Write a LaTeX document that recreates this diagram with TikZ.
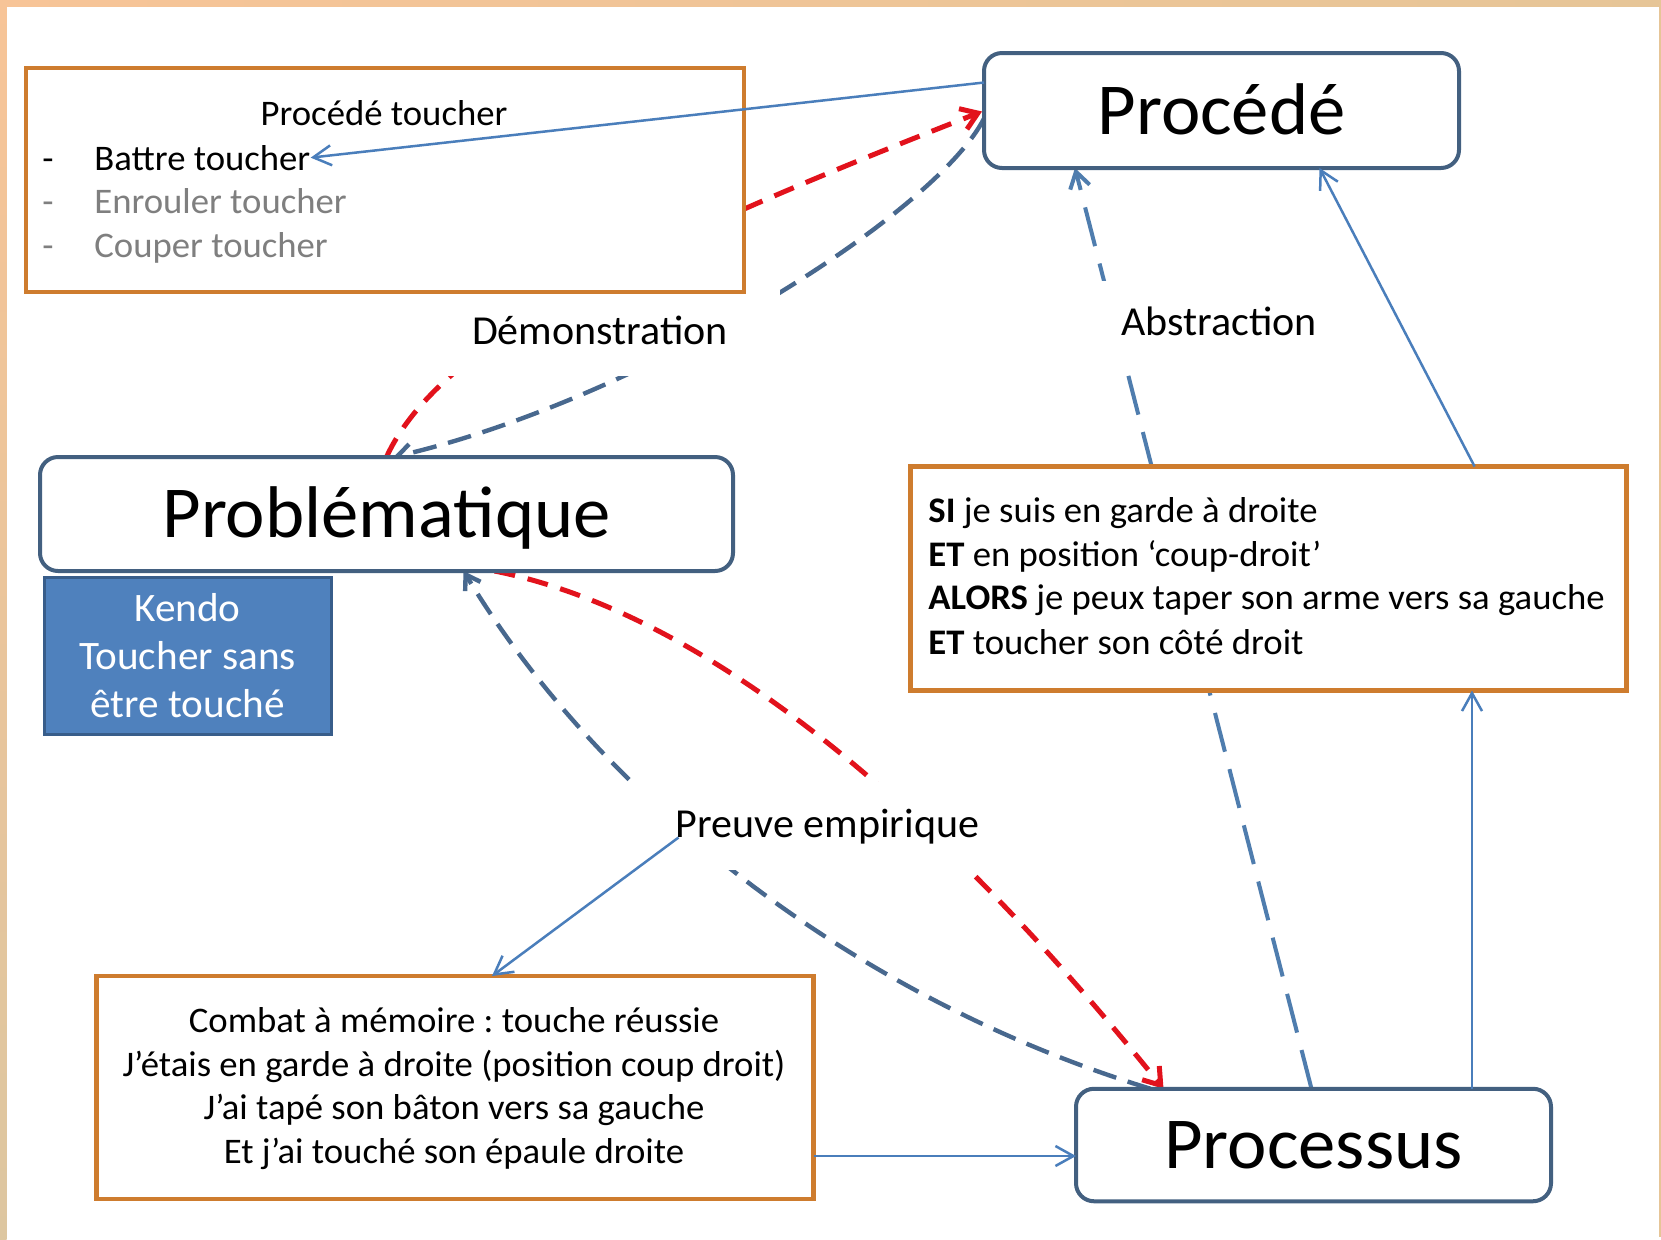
\documentclass[tikz,border=0pt]{standalone}
\usepackage{fontspec}
\setmainfont{Carlito}[FakeStretch=1.02]
\usetikzlibrary{arrows.meta,calc}
\pgfdeclarelayer{background}
\pgfsetlayers{background,main}
\frenchspacing
\definecolor{orangeb}{RGB}{206,124,46}
\definecolor{nodeb}{RGB}{67,96,128}
\definecolor{kfill}{RGB}{79,129,189}
\definecolor{kline}{RGB}{56,93,138}
\definecolor{arrblue}{RGB}{74,126,187}
\definecolor{slate}{RGB}{72,104,142}
\definecolor{abst}{RGB}{79,125,174}
\definecolor{redd}{RGB}{226,18,28}
\definecolor{graytxt}{RGB}{127,127,127}
\definecolor{frameA}{RGB}{247,196,151}
\definecolor{frameB}{RGB}{230,197,151}
\definecolor{frameC}{RGB}{221,198,160}
\tikzset{
 obox/.style={draw=orangeb, line width=2.3pt, fill=white, inner sep=0pt, outer sep=0pt},
 rbox/.style={draw=nodeb, line width=2pt, fill=white, rounded corners=9pt, inner sep=0pt, outer sep=0pt,
   font=\fontsize{36.6}{43}\selectfont, text height=30pt, text depth=6.5pt},
 kbox/.style={draw=kline, line width=1.5pt, fill=kfill, inner sep=0pt, outer sep=0pt},
 lbl/.style={fill=white, inner sep=0pt, font=\fontsize{20.6}{25}\selectfont, text height=15pt, text depth=4pt},
 txt/.style={inner sep=0pt, font=\fontsize{18}{22}\selectfont},
 ktxt/.style={inner sep=0pt, text=white, font=\fontsize{20.2}{24}\selectfont},
 solidarr/.style={draw=arrblue, line width=1.25pt, -{Straight Barb[length=9pt,width=10pt]}},
 reddash/.style={draw=redd, line width=2.5pt, dash pattern=on 10.5pt off 6.5pt, -{Straight Barb[length=8pt,width=11pt]}},
 slatedash/.style={draw=slate, line width=2.2pt, dash pattern=on 12pt off 6pt, -{Straight Barb[length=7pt,width=9pt]}},
 abstdash/.style={draw=abst, line width=2pt, dash pattern=on 20pt off 9pt, -{Straight Barb[length=8pt,width=10pt]}},
}
\begin{document}
\begin{tikzpicture}[x=0.5pt,y=-0.5pt]
\useasboundingbox (0,0) rectangle (1661,1239);
\begin{pgfonlayer}{background}
\fill[white] (0,0) rectangle (1661,1239);
\shade[left color=frameA, right color=frameB] (0,0) rectangle (1661,6);
\shade[top color=frameA, bottom color=frameC] (0,0) rectangle (6.5,1239);
\fill[frameB] (1659,6) rectangle (1661,1237);
\end{pgfonlayer}

% labels (white areas)
\node[lbl, minimum width=180pt, minimum height=43pt] (demo) at (600,333) {Démonstration};
\node[lbl, minimum width=124pt, minimum height=43.5pt] (abs) at (1219,324.5) {Abstraction};
\node[lbl, minimum width=198.5pt, minimum height=44pt] (preuve) at (827.5,826) {Preuve empirique};

% boxes
\node[obox, minimum width=359pt, minimum height=112pt] (pt) at (385,180) {};
\node[rbox, minimum width=237.5pt, minimum height=57.5pt] (proc) at (1221.5,110.5) {Procédé};
\node[rbox, minimum width=346.5pt, minimum height=57pt] (prob) at (386.5,514) {Problématique};
\node[kbox, minimum width=143.5pt, minimum height=78.5pt] (kendo) at (188,655.5) {};
\node[obox, minimum width=358pt, minimum height=112pt] (si) at (1268.6,578.5) {};
\node[obox, minimum width=358.5pt, minimum height=111.5pt] (combat) at (455,1087.5) {};
\node[rbox, minimum width=237.5pt, minimum height=56.25pt] (pcs) at (1313.5,1145) {Processus};

% box texts
\node[txt, anchor=base] (ptt) at (384,125.7) {Procédé toucher};
\node[txt, anchor=base] (d1) at (48,170) {-};
\node[txt, anchor=base west] (battre) at (94,170) {Battre toucher};
\node[txt, anchor=base, text=graytxt] (d2) at (48,213.5) {-};
\node[txt, anchor=base west, text=graytxt] (enr) at (94,213.5) {Enrouler toucher};
\node[txt, anchor=base, text=graytxt] (d3) at (48,257) {-};
\node[txt, anchor=base west, text=graytxt] (coup) at (94,257) {Couper toucher};

\node[txt, anchor=base west] (si1) at (928,522.7) {\textbf{SI} je suis en garde à droite};
\node[txt, anchor=base west] (si2) at (928,566.2) {\textbf{ET} en position ‘coup-droit’};
\node[txt, anchor=base west] (si3) at (928,609.5) {\textbf{ALORS} je peux taper son arme vers sa gauche};
\node[txt, anchor=base west] (si4) at (928,654.8) {\textbf{ET} toucher son côté droit};

\node[txt, anchor=base] (c1) at (454,1032) {Combat à mémoire : touche réussie};
\node[txt, anchor=base] (c2) at (454,1076.7) {J’étais en garde à droite (position coup droit)};
\node[txt, anchor=base] (c3) at (454,1119.5) {J’ai tapé son bâton vers sa gauche};
\node[txt, anchor=base] (c4) at (454,1163.7) {Et j’ai touché son épaule droite};

\node[ktxt, anchor=base] (k1) at (187.5,621) {Kendo};
\node[ktxt, anchor=base] (k2) at (187.5,669.4) {Toucher sans};
\node[ktxt, anchor=base] (k3) at (187.5,717) {être touché};

% end points
\coordinate (rdS) at (prob.north);
\coordinate (rdE) at ($(proc.west)+(-2,1)$);
\coordinate (bdS) at ($(proc.west)+(0,8)$);
\coordinate (bdE) at ($(prob.north)+(7,0)$);
\coordinate (rbS) at ($(prob.south)+(108,0)$);
\coordinate (rbE) at ($(pcs.north)+(-150,0)$);
\coordinate (bbS) at ($(pcs.north)+(-163,0)$);
\coordinate (bbE) at ($(prob.south)+(77,0)$);
\coordinate (abS) at ($(pcs.north)+(-2,0)$);
\coordinate (abE) at ($(proc.south)+(-146.5,0)$);

\begin{pgfonlayer}{background}
\draw[reddash] (rdS) .. controls (440,340) and (646,243) .. (rdE);
\draw[slatedash] (bdS) .. controls (935,215) and (640,400) .. (bdE);
\draw[reddash] (rbS) .. controls (690,610) and (915,780) .. (rbE);
\draw[slatedash] (bbS) .. controls (860,1000) and (605,805) .. (bbE);
\draw[abstdash] (abS) -- (abE);
\end{pgfonlayer}

% solid arrows
\coordinate (s1) at ($(proc.west)+(0,-28)$);
\draw[solidarr] (s1) -- (battre.east);
\coordinate (s2) at ($(si.north)+(206,0)$);
\coordinate (s2e) at ($(proc.south)+(98,0)$);
\draw[solidarr] (s2) -- (s2e);
\coordinate (s3) at ($(pcs.north)+(158.5,0)$);
\draw[solidarr] (s3) -- (s3 |- si.south);
\coordinate (s4) at ($(combat.east)+(0,68.5)$);
\draw[solidarr] (s4) -- (s4 -| pcs.west);
\coordinate (s5) at ($(preuve.center)+(-149,11.5)$);
\coordinate (s5e) at ($(combat.north)+(37,0)$);
\draw[solidarr] (s5) -- (s5e);
\end{tikzpicture}
\end{document}
